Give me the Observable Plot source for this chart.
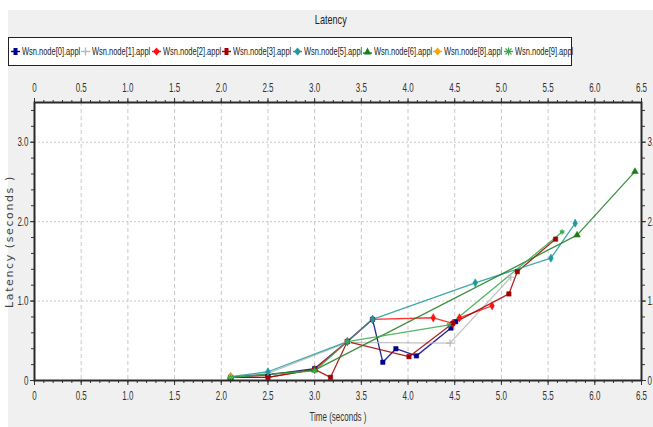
<!DOCTYPE html>
<html>
<head>
<meta charset="utf-8">
<script src="https://cdn.jsdelivr.net/npm/d3@7"></script>
<script src="https://cdn.jsdelivr.net/npm/@observablehq/plot@0.6"></script>
<style>
  html, body { margin:0; padding:0; background:#fff; width:653px; height:427px; overflow:hidden; }
  body { position:relative; font-family:"Liberation Sans",Arial,sans-serif; }
  #panel { position:absolute; left:8px; top:10px; right:0; bottom:0; background:#f0f0f0; }
  #title { position:absolute; left:8px; right:0; top:12px; text-align:center; font-size:13px; color:#222; }
  #title span { display:inline-block; transform:scaleX(0.7); }
  #legend { position:absolute; left:8px; top:37px; width:562px; height:27px; background:#fff; border:1.5px solid #222; }
  .item { position:absolute; top:7px; font-size:11px; color:#222; white-space:nowrap; line-height:12px; }
  .item svg { position:absolute; left:0; top:2px; }
  .item span { position:absolute; left:11px; top:0; display:inline-block; transform:scaleX(0.68); transform-origin:0 50%; }
  #chart { position:absolute; left:0; top:72px; }
</style>
</head>
<body>
<div id="panel"></div>
<div id="title"><span>Latency</span></div>
<div id="legend"></div>
<div id="chart"></div>
<script>
// ---- data (time in seconds, latency in seconds) ----
const seriesNames = ["Wsn.node[0].appl","Wsn.node[1].appl","Wsn.node[2].appl","Wsn.node[3].appl","Wsn.node[5].appl","Wsn.node[6].appl","Wsn.node[8].appl","Wsn.node[9].appl"];
const node0 = [[2.1,0.04],[2.5,0.07],[3.0,0.15],[3.35,0.49],[3.62,0.77],[3.73,0.23],[3.87,0.40],[4.09,0.31],[4.46,0.66],[4.51,0.74]];
const node1 = [[2.1,0.04],[2.5,0.09],[3.35,0.48],[4.45,0.47],[5.1,1.30]];
const node2 = [[2.1,0.04],[2.5,0.04],[3.0,0.14],[3.35,0.49],[3.62,0.77],[4.27,0.79],[4.48,0.72],[4.55,0.79],[4.9,0.94]];
const node3 = [[2.1,0.04],[2.5,0.04],[3.0,0.14],[3.17,0.04],[3.35,0.49],[4.01,0.30],[4.48,0.72],[5.08,1.09],[5.17,1.37],[5.58,1.78]];
const node5 = [[2.1,0.05],[2.5,0.11],[3.35,0.49],[3.62,0.77],[4.72,1.23],[5.53,1.54],[5.79,1.98]];
const node6 = [[2.1,0.04],[3.0,0.13],[5.81,1.83],[6.43,2.63]];
const node8 = [[2.1,0.05]];
const node9 = [[2.1,0.04],[3.0,0.12],[3.35,0.49],[4.44,0.70],[5.65,1.87]];
const seriesData = [node0,node1,node2,node3,node5,node6,node8,node9];
const seriesColors = ["#00008b","#b8b8b8","#ff1010","#a00000","#1e9a9c","#1c7c1c","#ffa500","#3aa84a"];
const seriesSymbols = ["square","plus","diamond","square","diamond","triangle","diamond","asterisk"];
const xMajor = [0,0.5,1.0,1.5,2.0,2.5,3.0,3.5,4.0,4.5,5.0,5.5,6.0,6.5];
const yMajor = [0,1.0,2.0,3.0];

// ---- legend ----
const legend = document.getElementById("legend");
function glyph(sym, color){
  let inner = "";
  const h = `<line x1="0" y1="4.5" x2="9" y2="4.5" stroke="${color}" stroke-width="1.4"/>`;
  if (sym === "square") inner = `<rect x="2.5" y="1" width="4" height="7" fill="${color}"/>` + h;
  else if (sym === "diamond") inner = `<path d="M4.5 0.5L8 4.5L4.5 8.5L1 4.5Z" fill="${color}"/>` + h;
  else if (sym === "triangle") inner = `<path d="M4.5 0.5L8 7.5L1 7.5Z" fill="${color}"/><line x1="0" y1="6" x2="9" y2="6" stroke="${color}" stroke-width="1.4"/>`;
  else if (sym === "plus") inner = `<line x1="4.5" y1="0.5" x2="4.5" y2="8.5" stroke="${color}" stroke-width="1.4"/>` + h;
  else inner = `<path d="M1.5 1.5L7.5 7.5M7.5 1.5L1.5 7.5M4.5 0.5V8.5" stroke="${color}" stroke-width="1.1"/>` + h;
  return `<svg width="9" height="9">${inner}</svg>`;
}
seriesNames.forEach((n,i) => {
  const d = document.createElement("div");
  d.className = "item";
  d.style.left = (2 + i * 70.4) + "px";
  d.innerHTML = glyph(seriesSymbols[i], seriesColors[i]) + "<span>" + n + "</span>";
  legend.appendChild(d);
});

// ---- chart ----
const rows = [];
seriesData.forEach((arr,i) => arr.forEach(([t,v]) => rows.push({series: seriesNames[i], t, v})));
const xMinor = d3.range(0, 6.5001, 0.1);
const yMinor = d3.range(0, 3.5001, 0.2);
const fmt = d => d === 0 ? "0" : d.toFixed(1);

const marks = [
  Plot.frame({fill:"#fff"}),
  Plot.gridX(xMajor.filter(d => d>0 && d<6.5), {stroke:"#c8c8c8", strokeOpacity:1, strokeDasharray:"4,3"}),
  Plot.gridY(yMajor.filter(d => d>0), {stroke:"#c8c8c8", strokeOpacity:1, strokeDasharray:"2,2"}),
  Plot.axisX(xMinor, {anchor:"bottom", tickSize:3, tickFormat:() => "", label:null, stroke:"#333"}),
  Plot.axisX(xMajor, {anchor:"bottom", tickSize:5, tickPadding:6, tickFormat:fmt, label:"Time (seconds )", labelAnchor:"center", labelOffset:40, labelArrow:false, stroke:"#333", fill:"#333", fontSize:12.5}),
  Plot.axisX(xMinor, {anchor:"top", tickSize:3, tickFormat:() => "", label:null, stroke:"#333"}),
  Plot.axisX(xMajor, {anchor:"top", tickSize:5, tickPadding:6, tickFormat:fmt, label:null, stroke:"#333", fill:"#333", fontSize:12.5}),
  Plot.axisY(yMinor, {anchor:"left", tickSize:3, tickFormat:() => "", label:null, stroke:"#333"}),
  Plot.axisY(yMajor, {anchor:"left", tickSize:4, tickPadding:2, tickFormat:fmt, label:"Latency (seconds )", labelAnchor:"center", labelOffset:29, labelArrow:false, stroke:"#333", fill:"#333", fontSize:12.5}),
  Plot.axisY(yMinor, {anchor:"right", tickSize:3, tickFormat:() => "", label:null, stroke:"#333"}),
  Plot.axisY(yMajor, {anchor:"right", tickSize:4, tickPadding:2, tickFormat:fmt, label:null, stroke:"#333", fill:"#333", fontSize:12.5}),
];
seriesNames.forEach((n,i) => {
  marks.push(Plot.line(rows.filter(r => r.series === n), {x:"t", y:"v", stroke: seriesColors[i], strokeWidth:1.3, strokeOpacity:0.85}));
});
seriesNames.forEach((n,i) => {
  const open = seriesSymbols[i]==="plus"||seriesSymbols[i]==="asterisk";
  marks.push(Plot.dot(rows.filter(r => r.series === n), {x:"t", y:"v", symbol: seriesSymbols[i], r:2.5, fill: open ? "none" : seriesColors[i], stroke: seriesColors[i], strokeWidth: open ? 1.2 : 0.5}));
});
marks.push(Plot.frame({stroke:"#2a2a2a", strokeWidth:2}));

const chart = Plot.plot({
  width: 653, height: 355,
  marginLeft: 34, marginRight: 12, marginTop: 30, marginBottom: 47,
  x: {domain:[0,6.5]},
  y: {domain:[0,3.5]},
  style: {background:"transparent", fontFamily:'"Liberation Sans",Arial,sans-serif', fontSize:"11px", overflow:"visible"},
  marks
});
document.getElementById("chart").appendChild(chart);

// condense the axis texts (narrow look of the original)
chart.querySelectorAll('g[aria-label$="tick label"] text, g[aria-label="x-axis label"] text').forEach(t => {
  const tr = t.getAttribute("transform");
  if (tr) t.setAttribute("transform", tr + " scale(0.64,1)");
  else {
    const x = +t.getAttribute("x") || 0, y = +t.getAttribute("y") || 0;
    t.setAttribute("transform", `translate(${x},${y}) scale(0.64,1) translate(${-x},${-y})`);
  }
});
chart.querySelectorAll('g[aria-label="y-axis label"] text').forEach(t => {
  t.style.fontFamily = '"DejaVu Sans",sans-serif';
  t.style.fontSize = "11px";
  t.style.letterSpacing = "1.6px";
  t.setAttribute("fill", "#444");
});
</script>
</body>
</html>
